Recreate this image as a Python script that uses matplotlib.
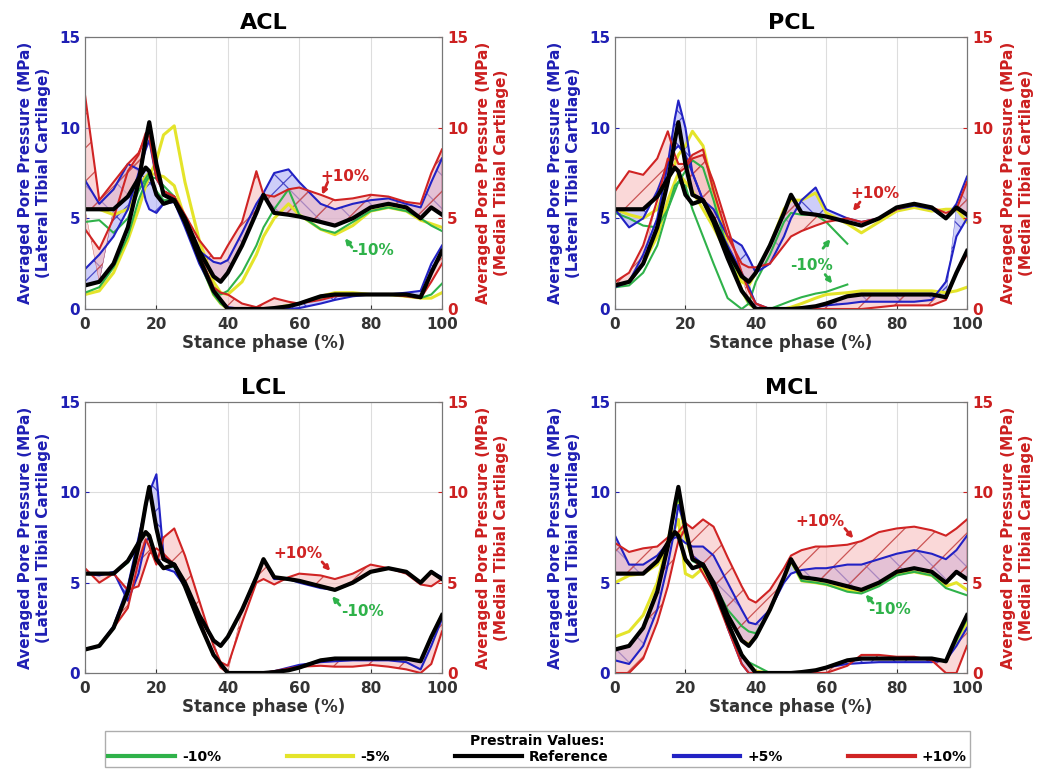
import numpy as np
import matplotlib
matplotlib.use('Agg')
import matplotlib.pyplot as plt
from matplotlib.lines import Line2D

plt.rcParams['font.family'] = ['DejaVu Sans']
plt.rcParams['font.weight'] = 'bold'
plt.rcParams['hatch.linewidth'] = 0.9

nan = np.nan

# ---------------- data ----------------
X = [0, 4, 8, 12, 15, 17, 18, 20, 22, 25, 28, 32, 36, 38, 40, 44, 48, 50, 53, 57,
     60, 66, 70, 75, 80, 85, 90, 94, 97, 100]
XTICKS = [0, 20, 40, 60, 80, 100]
YTICKS = [0, 5, 10, 15]
PANEL_NAMES = ['ACL', 'PCL', 'LCL', 'MCL']
LEGEND_LABELS = ['-10%', '-5%', 'Reference', '+5%', '+10%']

REF_A = [5.5, 5.5, 5.5, 6.2, 7.2, 7.8, 7.6, 6.3, 5.8, 6.0, 4.8, 2.8, 1.0, 0.5, 0.0, 0.0, 0.0, 0.0, 0.05, 0.15,
         0.3, 0.7, 0.8, 0.8, 0.8, 0.8, 0.8, 0.65, 2.0, 3.2]
REF_B = [1.3, 1.5, 2.5, 4.5, 7.0, 9.3, 10.3, 8.0, 6.3, 6.0, 5.0, 3.2, 1.8, 1.5, 2.0, 3.5, 5.3, 6.3, 5.3, 5.2,
         5.1, 4.8, 4.6, 5.0, 5.6, 5.8, 5.6, 5.0, 5.6, 5.2]

# ACL
ACL_M10_A = [4.8, 4.9, 4.2, 5.0, 6.5, 7.2, 7.5, 6.5, 6.0, 6.0, 4.8, 2.6, 0.8, 0.3, 0.0, 0.0, 0.0, 0.0, 0.05, 0.2,
             0.3, 0.6, 0.8, 0.8, 0.8, 0.8, 0.7, 0.6, 0.8, 1.4]
ACL_M10_B = [0.9, 1.2, 2.3, 4.0, 6.0, 7.0, 7.3, 7.2, 6.8, 6.2, 5.0, 3.0, 1.2, 0.8, 1.0, 2.0, 3.5, 4.5, 5.5, 6.6,
             5.2, 4.4, 4.2, 4.8, 5.4, 5.6, 5.4, 5.0, 4.6, 4.3]
ACL_M5_A = [5.5, 5.5, 5.2, 5.5, 6.8, 7.3, 7.5, 7.4, 7.3, 6.8, 5.0, 2.8, 0.8, 0.3, 0.0, 0.0, 0.0, 0.0, 0.05, 0.2,
            0.3, 0.7, 0.9, 0.9, 0.8, 0.8, 0.7, 0.6, 0.6, 0.9]
ACL_M5_B = [0.8, 1.0, 2.0, 3.8, 5.5, 6.8, 7.3, 8.2, 9.6, 10.1, 7.0, 3.8, 1.5, 0.9, 0.8, 1.5, 3.0, 4.0, 5.0, 5.8,
            5.2, 4.4, 4.1, 4.6, 5.4, 5.6, 5.4, 4.9, 4.7, 4.5]
ACL_P5_A = [7.1, 5.8, 6.6, 8.0, 7.7, 6.0, 5.5, 5.3, 5.8, 5.9, 4.5, 2.5, 1.0, 0.5, 0.1, 0.0, 0.0, 0.0, 0.0, 0.0,
            0.05, 0.3, 0.5, 0.7, 0.8, 0.8, 0.9, 1.0, 2.5, 3.5]
ACL_P5_B = [2.2, 3.0, 4.0, 5.5, 7.5, 8.8, 9.3, 7.2, 6.5, 6.2, 5.0, 3.2, 2.6, 2.5, 2.7, 4.2, 5.8, 6.4, 7.5, 7.7,
            7.0, 5.8, 5.5, 5.8, 6.0, 6.1, 5.8, 5.6, 7.0, 8.3]
ACL_P10_A = [11.8, 6.0, 7.0, 8.0, 8.6, 9.5, 10.0, 7.5, 6.5, 6.2, 5.0, 3.0, 1.2, 0.9, 0.8, 0.3, 0.1, 0.3, 0.6, 0.4,
             0.3, 0.5, 0.7, 0.8, 0.8, 0.8, 0.7, 0.6, 1.5, 2.5]
ACL_P10_B = [4.4, 3.3, 5.0, 7.6, 8.5, 9.7, 9.5, 7.2, 6.5, 6.2, 5.2, 3.8, 2.8, 2.8, 3.5, 4.8, 7.6, 6.3, 6.2, 6.6,
             6.7, 6.3, 6.0, 6.1, 6.3, 6.2, 5.9, 5.8, 7.5, 8.8]

# PCL
PCL_M10_A = [5.3, 5.0, 4.6, 4.5, 5.5, 6.5, 7.0, 7.6, 8.2, 7.8, 6.0, 3.2, 1.0, 0.3, 0.0, 0.0, 0.3, 0.45, 0.65, 0.85,
             0.95, 1.35, nan, nan, nan, nan, nan, nan, nan, nan]
PCL_M10_B = [1.2, 1.3, 2.0, 3.5, 5.5, 6.8, 7.0, 6.8, 5.5, 4.0, 2.5, 0.6, 0.0, 0.3, 1.5, 3.0, 4.8, 5.3, 5.2, 5.2,
             4.8, 3.6, nan, nan, nan, nan, nan, nan, nan, nan]
PCL_M5_A = [5.5, 5.2, 5.0, 5.5, 7.0, 8.0, 8.5, 9.0, 9.8, 9.0, 6.5, 3.5, 1.0, 0.3, 0.0, 0.0, 0.0, 0.1, 0.3, 0.6,
            0.8, 0.9, 1.0, 1.0, 1.0, 1.0, 1.0, 0.9, 1.0, 1.2]
PCL_M5_B = [1.2, 1.5, 2.5, 4.0, 6.0, 7.0, 7.5, 7.0, 6.5, 5.5, 4.5, 3.0, 1.5, 1.3, 2.0, 3.5, 5.5, 6.0, 6.0, 6.4,
            5.3, 4.7, 4.2, 4.8, 5.4, 5.6, 5.4, 5.5, 5.5, 4.8]
PCL_P5_A = [5.5, 4.5, 5.0, 6.5, 8.0, 8.8, 9.0, 8.5, 7.5, 6.0, 5.0, 3.5, 2.0, 1.2, 0.3, 0.0, 0.0, 0.0, 0.0, 0.1,
            0.2, 0.3, 0.4, 0.4, 0.4, 0.4, 0.5, 1.5, 4.0, 5.0]
PCL_P5_B = [1.2, 1.5, 3.0, 5.0, 8.0, 10.5, 11.5, 10.0, 7.5, 6.0, 5.5, 4.0, 3.5, 2.8, 2.0, 2.5, 4.0, 5.0, 6.0, 6.7,
            5.5, 5.0, 4.8, 5.0, 5.5, 5.7, 5.5, 5.0, 5.8, 7.3]
PCL_P10_A = [6.5, 7.6, 7.4, 8.3, 9.8, 8.5, 8.0, 8.0, 8.5, 8.8, 6.5, 4.0, 2.5, 2.3, 2.3, 2.5, 3.5, 4.0, 4.3, 4.6,
             4.8, 5.0, 4.8, 5.0, 5.5, 5.8, 5.6, 5.3, 5.5, 7.0]
PCL_P10_B = [1.5, 2.0, 3.5, 6.0, 8.3, 7.8, 7.5, 7.8, 8.3, 8.5, 7.0, 4.5, 2.0, 1.0, 0.3, 0.0, 0.0, 0.0, 0.0, 0.0,
             0.0, 0.0, 0.0, 0.1, 0.2, 0.2, 0.2, 0.5, 2.0, 3.0]

# LCL
LCL_M10_A = [5.5, 5.5, 5.5, 6.1, 7.1, 7.7, 7.5, 6.2, 5.8, 5.9, 4.8, 2.8, 1.0, 0.5, 0.0, 0.0, 0.0, 0.0, 0.05, 0.15,
             0.3, 0.7, 0.8, 0.8, 0.8, 0.8, 0.8, 0.65, 1.9, 3.1]
LCL_M10_B = [1.3, 1.5, 2.5, 4.5, 7.0, 9.2, 10.2, 7.9, 6.3, 6.0, 5.0, 3.2, 1.8, 1.5, 2.0, 3.5, 5.3, 6.3, 5.3, 5.2,
             5.1, 4.8, 4.6, 5.0, 5.6, 5.8, 5.6, 5.0, 5.6, 5.2]
LCL_M5_A = [5.5, 5.5, 5.5, 6.2, 7.2, 7.8, 7.6, 6.3, 5.8, 6.0, 4.8, 2.8, 1.0, 0.5, 0.0, 0.0, 0.0, 0.0, 0.05, 0.15,
            0.3, 0.7, 0.8, 0.8, 0.8, 0.8, 0.8, 0.65, 2.0, 3.2]
LCL_M5_B = [1.3, 1.5, 2.5, 4.5, 7.0, 9.3, 10.3, 8.0, 6.3, 6.0, 5.0, 3.2, 1.8, 1.5, 2.0, 3.5, 5.3, 6.3, 5.3, 5.2,
            5.1, 4.8, 4.6, 5.0, 5.6, 5.8, 5.6, 5.0, 5.6, 5.2]
LCL_P5_A = [5.5, 5.4, 5.6, 4.0, 5.5, 7.3, 7.5, 6.5, 5.8, 5.6, 4.8, 2.8, 1.0, 0.5, 0.0, 0.0, 0.0, 0.0, 0.1, 0.3,
            0.45, 0.6, 0.65, 0.7, 0.7, 0.7, 0.6, 0.2, 1.5, 3.0]
LCL_P5_B = [1.3, 1.5, 2.6, 4.8, 7.5, 9.2, 10.0, 11.0, 6.5, 6.0, 5.0, 3.2, 1.8, 1.5, 2.0, 3.5, 5.3, 6.3, 5.2, 5.2,
            5.0, 4.7, 4.6, 5.0, 5.6, 5.8, 5.6, 5.0, 5.6, 5.3]
LCL_P10_A = [5.8, 5.0, 5.5, 4.6, 4.8, 6.0, 6.6, 6.9, 6.6, 6.0, 4.8, 3.0, 1.0, 0.3, 0.0, 0.0, 0.0, 0.0, 0.1, 0.25,
             0.35, 0.4, 0.35, 0.35, 0.45, 0.35, 0.2, 0.0, 0.5, 2.3]
LCL_P10_B = [1.3, 1.5, 2.5, 3.6, 6.2, 7.4, 7.0, 6.0, 7.5, 8.0, 6.5, 4.0, 1.5, 0.6, 0.4, 2.8, 5.0, 5.2, 4.9, 5.3,
             5.5, 5.4, 5.2, 5.5, 6.0, 5.8, 5.5, 4.9, 4.8, 5.2]

# MCL
MCL_M10_A = [5.5, 5.5, 5.5, 6.2, 7.2, 7.7, 7.5, 6.2, 5.8, 5.9, 4.8, 2.8, 1.0, 0.6, 0.4, 0.0, 0.0, 0.0, 0.05, 0.15,
             0.3, 0.7, 0.8, 0.8, 0.8, 0.8, 0.8, 0.65, 1.8, 3.0]
MCL_M10_B = [1.3, 1.5, 2.5, 4.5, 7.0, 9.0, 9.8, 7.8, 6.2, 5.9, 5.0, 3.5, 2.6, 2.3, 2.2, 3.5, 5.2, 6.2, 5.1, 5.0,
             4.9, 4.5, 4.4, 4.8, 5.4, 5.6, 5.4, 4.7, 4.5, 4.3]
MCL_M5_A = [5.0, 5.4, 5.5, 6.0, 7.0, 8.0, 8.5, 5.5, 5.3, 5.8, 4.8, 2.8, 1.0, 0.5, 0.1, 0.0, 0.0, 0.0, 0.05, 0.15,
            0.3, 0.7, 0.8, 0.8, 0.8, 0.8, 0.8, 0.65, 1.8, 2.8]
MCL_M5_B = [2.0, 2.3, 3.2, 5.0, 7.3, 9.0, 9.8, 7.5, 6.3, 6.0, 5.0, 3.2, 1.8, 1.6, 2.0, 3.5, 5.2, 6.2, 5.1, 5.0,
            4.9, 4.6, 4.5, 4.9, 5.5, 5.6, 5.4, 4.8, 5.0, 4.6]
MCL_P5_A = [7.6, 6.0, 6.0, 6.5, 7.2, 7.5, 7.5, 7.2, 7.0, 7.0, 6.5, 5.0, 3.5, 2.8, 2.7, 3.5, 5.0, 5.5, 5.7, 5.8,
            5.8, 6.0, 6.0, 6.3, 6.6, 6.8, 6.6, 6.3, 6.8, 7.6]
MCL_P5_B = [0.7, 0.5, 1.5, 3.5, 6.0, 8.0, 9.3, 8.0, 6.5, 6.0, 5.0, 2.5, 0.5, 0.0, 0.0, 0.0, 0.0, 0.0, 0.0, 0.1,
            0.3, 0.5, 0.55, 0.6, 0.6, 0.6, 0.6, 0.7, 1.5, 2.5]
MCL_P10_A = [7.2, 6.7, 6.9, 7.0, 7.5, 7.7, 7.8, 8.3, 8.0, 8.5, 8.1, 6.4, 4.8, 4.1, 3.9, 4.6, 5.8, 6.5, 6.8, 7.0,
             7.0, 7.1, 7.3, 7.8, 8.0, 8.1, 7.9, 7.6, 8.0, 8.5]
MCL_P10_B = [0.0, 0.0, 0.8, 2.8, 4.8, 6.5, 7.3, 8.0, 6.5, 5.5, 4.5, 2.5, 0.5, 0.0, 0.0, 0.0, 0.0, 0.0, 0.0, 0.0,
             0.0, 0.4, 1.0, 1.0, 0.9, 0.9, 0.7, 0.0, 0.0, 1.5]

PANELS = {
    'ACL': {'m10': [ACL_M10_A, ACL_M10_B], 'm5': [ACL_M5_A, ACL_M5_B],
            'p5': [ACL_P5_A, ACL_P5_B], 'p10': [ACL_P10_A, ACL_P10_B]},
    'PCL': {'m10': [PCL_M10_A, PCL_M10_B], 'm5': [PCL_M5_A, PCL_M5_B],
            'p5': [PCL_P5_A, PCL_P5_B], 'p10': [PCL_P10_A, PCL_P10_B]},
    'LCL': {'m10': [LCL_M10_A, LCL_M10_B], 'm5': [LCL_M5_A, LCL_M5_B],
            'p5': [LCL_P5_A, LCL_P5_B], 'p10': [LCL_P10_A, LCL_P10_B]},
    'MCL': {'m10': [MCL_M10_A, MCL_M10_B], 'm5': [MCL_M5_A, MCL_M5_B],
            'p5': [MCL_P5_A, MCL_P5_B], 'p10': [MCL_P10_A, MCL_P10_B]},
}

# ---------------- style ----------------
GREEN = '#2fb24a'
YELLOW = '#e4e42a'
BLUE = '#2222c4'
RED = '#d02424'
BLUE_TXT = '#1f1fb4'
RED_TXT = '#cc2020'
XT_COL = '#333333'
PINK_FACE = (0.97, 0.72, 0.72, 0.55)
PINK_HATCH = '#cc5555'
LBLUE_FACE = (0.62, 0.62, 0.96, 0.50)
BLUE_HATCH = '#4a4ac8'

W, H = 1049, 769
POS = {
    'ACL': [85 / W, (H - 309) / H, 357 / W, 272 / H],
    'PCL': [615 / W, (H - 309) / H, 352 / W, 272 / H],
    'LCL': [85 / W, (H - 673) / H, 357 / W, 271 / H],
    'MCL': [615 / W, (H - 673) / H, 352 / W, 271 / H],
}

ANNOT = {
    'ACL': {'texts': [('+10%', 72.8, 7.3, RED), ('-10%', 80.4, 3.2, GREEN)],
            'arrows': [(68.0, 7.0, 66.4, 6.3, RED), (74.8, 3.4, 72.8, 3.9, GREEN)]},
    'PCL': {'texts': [('+10%', 73.9, 6.35, RED), ('-10%', 55.7, 2.4, GREEN)],
            'arrows': [(69.6, 5.9, 67.6, 5.4, RED), (59.1, 3.35, 61.2, 3.85, GREEN),
                       (59.7, 1.9, 61.7, 1.4, GREEN)]},
    'LCL': {'texts': [('+10%', 59.7, 6.6, RED), ('-10%', 77.6, 3.43, GREEN)],
            'arrows': [(66.4, 6.15, 68.7, 5.65, RED), (71.4, 3.75, 69.2, 4.25, GREEN)]},
    'MCL': {'texts': [('+10%', 58.2, 8.36, RED), ('-10%', 78.1, 3.5, GREEN)],
            'arrows': [(65.3, 8.0, 67.7, 7.45, RED), (73.3, 3.87, 71.2, 4.35, GREEN)]},
}

x = np.asarray(X, float)
ra = np.asarray(REF_A, float)
rb = np.asarray(REF_B, float)


def band(ax, y, face, edge, hatch, z):
    y = np.asarray(y, float)
    near = np.where(np.abs(y - ra) <= np.abs(y - rb), ra, rb)
    ok = ~np.isnan(y)
    y2 = np.where(ok, y, near)
    # translucent fill
    ax.fill_between(x, y2, near, where=ok, facecolor=face, edgecolor='none',
                    linewidth=0, zorder=z)
    # hatch layer
    plt.rcParams['hatch.color'] = edge
    ax.fill_between(x, y2, near, where=ok, facecolor='none', edgecolor=edge,
                    hatch=hatch, linewidth=0.3, zorder=z + 0.1)


fig = plt.figure(figsize=(W / 100, H / 100), dpi=100)

for name in PANEL_NAMES:
    d = PANELS[name]
    ax = fig.add_axes(POS[name])
    ax.set_xlim(0, 100)
    ax.set_ylim(0, 15)
    ax.set_xticks(XTICKS)
    ax.set_yticks(YTICKS)
    ax.grid(True, color='#dddddd', lw=0.8)
    ax.set_axisbelow(True)
    for s in ax.spines.values():
        s.set_color('#777777')
        s.set_linewidth(0.8)
    ax.tick_params(axis='x', colors=XT_COL, labelsize=11, direction='in', length=3, pad=6)
    ax.tick_params(axis='y', colors=BLUE_TXT, labelsize=11, direction='in', length=3)
    for lab in ax.get_xticklabels() + ax.get_yticklabels():
        lab.set_fontweight('bold')
    ax.set_xlabel('Stance phase (%)', fontsize=12, fontweight='bold', color=XT_COL, labelpad=1)
    ax.set_ylabel('Averaged Pore Pressure (MPa)\n(Lateral Tibial Cartilage)', fontsize=11,
                  fontweight='bold', color=BLUE_TXT, labelpad=6)
    ax.set_title(name, fontsize=16, fontweight='bold', pad=6)

    ax2 = ax.twinx()
    ax2.set_ylim(0, 15)
    ax2.set_yticks(YTICKS)
    ax2.tick_params(axis='y', colors=RED_TXT, labelsize=11, direction='in', length=3)
    for lab in ax2.get_yticklabels():
        lab.set_fontweight('bold')
    for s in ax2.spines.values():
        s.set_color('#777777')
        s.set_linewidth(0.8)
    ax2.set_ylabel('Averaged Pore Pressure (MPa)\n(Medial Tibial Cartilage)', fontsize=11,
                   fontweight='bold', color=RED_TXT, rotation=90, labelpad=6)

    # bands
    for y in d['p5']:
        band(ax, y, LBLUE_FACE, BLUE_HATCH, 'x', 1)
    for y in d['p10']:
        band(ax, y, PINK_FACE, PINK_HATCH, '/', 1.5)

    # lines
    for y in d['m5']:
        ax.plot(x, y, color=YELLOW, lw=2.2, zorder=2)
    for y in d['m10']:
        ax.plot(x, y, color=GREEN, lw=1.5, zorder=3)
    for y in d['p5']:
        ax.plot(x, y, color=BLUE, lw=1.5, zorder=4)
    for y in d['p10']:
        ax.plot(x, y, color=RED, lw=1.5, zorder=5)
    for y in (REF_A, REF_B):
        ax.plot(x, y, color='black', lw=3.0, zorder=6)

    for t, tx, ty, c in ANNOT[name]['texts']:
        ax.text(tx, ty, t, color=c, fontsize=11, fontweight='bold', ha='center', va='center', zorder=8)
    for x0, y0, x1, y1, c in ANNOT[name]['arrows']:
        ax.annotate('', xy=(x1, y1), xytext=(x0, y0), zorder=8,
                    arrowprops=dict(arrowstyle='-|>', color=c, lw=2.0, mutation_scale=7,
                                    shrinkA=0, shrinkB=0))

handles = [Line2D([0], [0], color=c, lw=3) for c in (GREEN, YELLOW, 'black', BLUE, RED)]
fig.legend(handles, LEGEND_LABELS, loc='lower left',
           bbox_to_anchor=(105 / W, 2 / H, 865 / W, 40 / H), mode='expand', ncol=5,
           title='Prestrain Values:', title_fontproperties={'weight': 'bold', 'size': 10},
           prop={'weight': 'bold', 'size': 10}, handlelength=4.8, frameon=True,
           fancybox=False, edgecolor='#999999', borderpad=0.25, labelspacing=0.1,
           handletextpad=0.5, borderaxespad=0)

fig.savefig('out.png', dpi=100)
